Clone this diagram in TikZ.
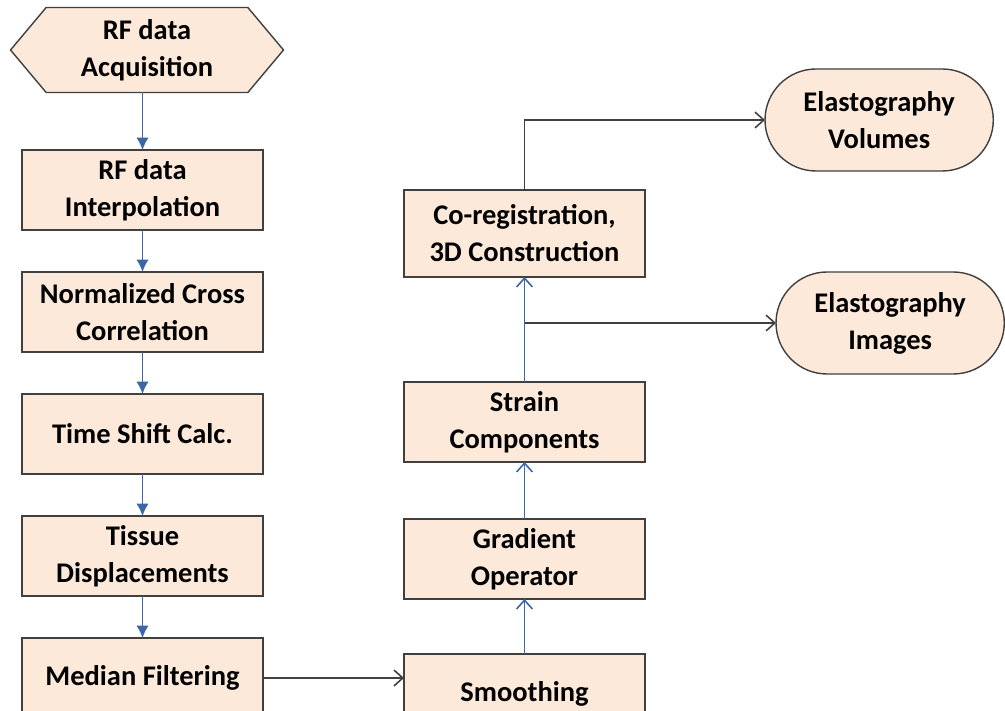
\documentclass[tikz,border=0pt]{standalone}
\usepackage{fontspec}
\setmainfont{Carlito}
\usepackage{tikz}
\usetikzlibrary{arrows.meta,positioning,shapes.symbols,shapes.misc}

\definecolor{peach}{RGB}{252,233,217}
\definecolor{edgegray}{RGB}{64,64,64}
\definecolor{flowblue}{RGB}{59,103,165}

\begin{document}
\begin{tikzpicture}[
	font = \fontsize{16.2}{21}\selectfont\bfseries, % text style
	node distance = 0.84cm, % distance between boxes
	proc/.style={rectangle, draw=edgegray, fill=peach, line width=0.8pt, outer sep=0pt, minimum width=4.82cm, minimum height=1.6cm, align=center},
	start/.style={signal, signal to=west and east, signal pointer angle=100, draw=edgegray, fill=peach, line width=0.8pt, outer sep=0pt, minimum width=5.46cm, minimum height=1.7cm, align=center},
	result/.style={rounded rectangle, draw=edgegray, fill=peach, line width=0.8pt, outer sep=0pt, minimum width=4.8cm, minimum height=2.04cm, align=center},
	down/.style={-{Latex[length=7pt,width=7pt]}, flowblue, line width=0.9pt},
	up/.style={-{Straight Barb[length=5pt,width=9pt]}, flowblue, line width=0.9pt},
	side/.style={-{Straight Barb[length=5pt,width=9pt]}, edgegray, line width=0.9pt},
	]

	\useasboundingbox (0,0) rectangle (20.1,14.2);
	\clip (0,0) rectangle (20.1,14.2);

	% Left column
	\node[start] (acq) at (2.94,13.2) {RF data\\Acquisition};
	\node[proc] (interp) [below = 1.15 of acq, xshift=-0.09cm] {RF data\\Interpolation};
	\node[proc] (ncc) [below = of interp] {Normalized Cross\\Correlation};
	\node[proc] (shift) [below = of ncc] {Time Shift Calc.};
	\node[proc] (disp) [below = of shift] {Tissue\\Displacements};
	\node[proc] (median) [below = of disp] {Median Filtering};

	% Right column
	\node[proc] (smooth) [right = 2.82 of median, yshift=-0.32cm] {Smoothing};
	\node[proc] (grad) [above = 1.1 of smooth] {Gradient\\Operator};
	\node[proc] (strain) [above = 1.14 of grad] {Strain\\Components};
	\node[proc, minimum height=1.74cm] (coreg) [above = 2.1 of strain] {Co-registration,\\3D Construction};

	% Outputs
	\node[result] (vol) [right = 2.4 of coreg, yshift=2.27cm] {Elastography\\Volumes};
	\node[result] (img) [right = 2.62 of strain, yshift=1.98cm] {Elastography\\Images};

	% Connections
	\draw[down] (interp.north |- acq.south) -- (interp);
	\draw[down] (interp) -- (ncc);
	\draw[down] (ncc) -- (shift);
	\draw[down] (shift) -- (disp);
	\draw[down] (disp) -- (median);
	\draw[side] (median.east) -- (median.east -| smooth.west);
	\draw[up] (smooth) -- (grad);
	\draw[up] (grad) -- (strain);
	\draw[up] (strain) -- (coreg);
	\draw[side] (coreg.north) |- (vol.west);
	\draw[side] (strain.north |- img.west) -- (img.west);
\end{tikzpicture}
\end{document}
